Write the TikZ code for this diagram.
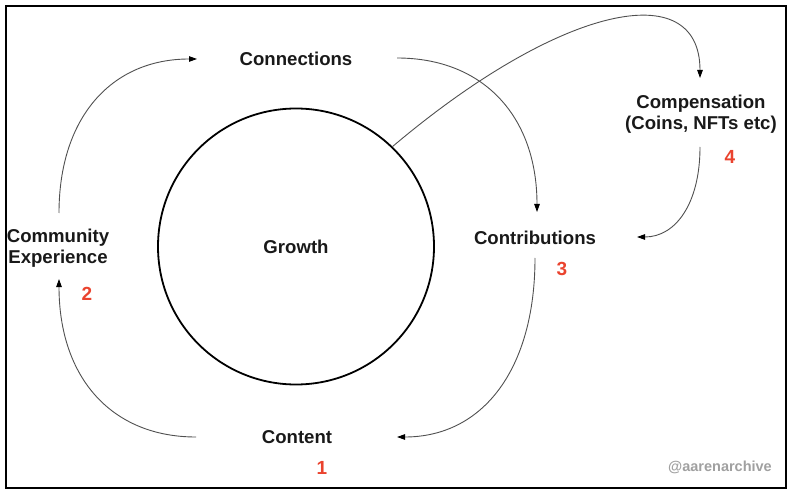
\documentclass[tikz,border=0pt]{standalone}
\usepackage{fontspec}
\setmainfont{Liberation Sans}
\usetikzlibrary{arrows.meta}
\definecolor{numred}{RGB}{234,67,46}
\definecolor{wmgray}{RGB}{160,160,160}
\definecolor{linegray}{RGB}{80,80,80}
\definecolor{txtblack}{RGB}{25,25,25}
\begin{document}
\begin{tikzpicture}[x=1pt,y=-1pt,
  lbl/.style={font=\bfseries\fontsize{18.6}{21}\selectfont, text=txtblack, align=center, inner sep=0pt},
  num/.style={font=\bfseries\fontsize{19}{21}\selectfont, text=numred, inner sep=0pt},
  flow/.style={draw=linegray, line width=0.9pt, -{Triangle[length=8pt,width=5.5pt,color=black]}},
]
\useasboundingbox (0,0) rectangle (792,494);
\draw[line width=2pt] (6,6) rectangle (786,488);

\node[circle, draw, line width=1.8pt, minimum size=276pt, inner sep=0pt, lbl] (growth) at (296,246.5) {Growth};
\node[lbl] (conn) at (296,58.5) {Connections};
\node[lbl] (contrib) at (535,237.5) {Contributions};
\node[lbl] (content) at (297,437.5) {Content};
\node[lbl] (comm) at (58,248) {Community\\Experience};
\node[lbl] (comp) at (701,114) {Compensation\\(Coins, NFTs etc)};

\node[num] (n1) at (322,468) {1};
\node[num] (n2) at (87,294) {2};
\node[num] (n3) at (562,269) {3};
\node[num] (n4) at (730,157) {4};

\node[font=\bfseries\fontsize{14.5}{16}\selectfont, text=wmgray, inner sep=0pt] (wm) at (720,467) {@aarenarchive};

% connector end points
\coordinate (commTop) at (59,213);
\coordinate (connL) at (197,59);
\coordinate (connR) at (397,58);
\coordinate (contribTop) at (537,212);
\coordinate (contribBot) at (535,258);
\coordinate (contentR) at (397,437);
\coordinate (contentL) at (196,437);
\coordinate (commBot) at (59,279);
\coordinate (compTop) at (700,78);
\coordinate (compBot) at (700,147);
\coordinate (contribR) at (637,237);

\draw[flow] (commTop) .. controls (59,118) and (111,59) .. (connL);
\draw[flow] (connR) .. controls (484,58) and (537,117) .. (contribTop);
\draw[flow] (contribBot) .. controls (535,369) and (483,437) .. (contentR);
\draw[flow] (contentL) .. controls (111,437) and (59,377) .. (commBot);
\draw[flow] (growth.46) .. controls (560,5) and (700,-25) .. (compTop);
\draw[flow] (compBot) .. controls (700,203) and (676,237) .. (contribR);
\end{tikzpicture}
\end{document}
